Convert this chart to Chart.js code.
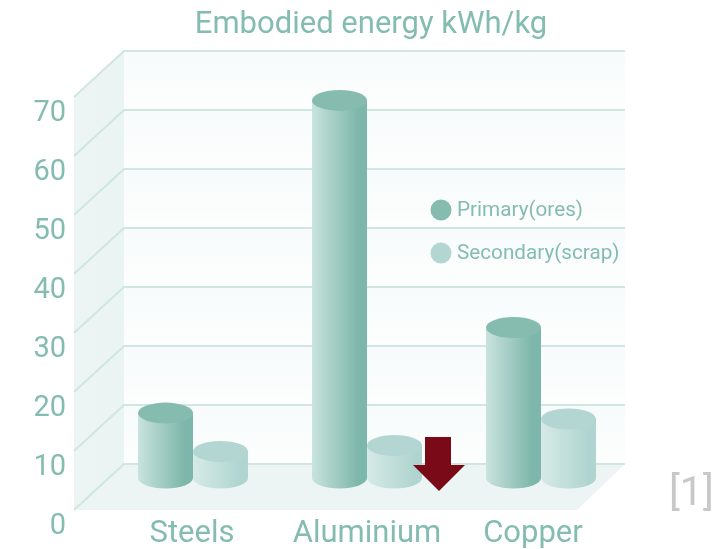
<!DOCTYPE html>
<html>
<head>
<meta charset="utf-8">
<style>
  html, body { margin: 0; background: #fff; }
  canvas { display: block; }
</style>
</head>
<body>
<canvas id="energy" width="725" height="549"></canvas>
<script src="https://cdn.jsdelivr.net/npm/chart.js@4/dist/chart.umd.js"></script>
<script>
const materials = ['Steels', 'Aluminium', 'Copper']
const primaryOres = [11, 64, 25.5]
const secondaryScrap = [4.5, 5.5, 10]
const yTicks = [0, 10, 20, 30, 40, 50, 60, 70]
const labelNudge = [-1, 0, -8]

const TEXT = '#84bcb1'
const GRID = '#cfe6e1'
const FLOOR = '#ecf5f3'

// the cylinders stand between the back wall and the front edge of the floor
const BACK = { dx: 18, dy: -14 }
const FRONT = { dx: -32, dy: 32 }

const tints = [
  { light: '#c9e3de', dark: '#7db6aa', cap: '#86bbb0' },
  { light: '#d6eae7', dark: '#b0d5d0', cap: '#b4d6d2' }
]

function cylinder (ctx, bar, tint) {
  const rx = bar.width / 2
  const ry = 10.5
  const left = bar.x - rx
  const right = bar.x + rx
  const grad = ctx.createLinearGradient(left, 0, right, 0)
  grad.addColorStop(0, tint.light)
  grad.addColorStop(0.85, tint.dark)
  grad.addColorStop(1, tint.dark)
  ctx.fillStyle = grad
  ctx.beginPath()
  ctx.moveTo(left, bar.y)
  ctx.lineTo(left, bar.base)
  ctx.ellipse(bar.x, bar.base, rx, ry, 0, Math.PI, 0, true)
  ctx.lineTo(right, bar.y)
  ctx.closePath()
  ctx.fill()
  ctx.fillStyle = tint.cap
  ctx.beginPath()
  ctx.ellipse(bar.x, bar.y, rx, ry, 0, 0, Math.PI * 2)
  ctx.fill()
}

const stage = {
  id: 'stage',
  // walls, floor and the gridlines that wrap around them
  beforeDatasetsDraw (chart) {
    const { ctx, scales: { x, y } } = chart
    const xl = x.left + BACK.dx
    const xr = x.right - 3
    const y0 = y.getPixelForValue(0)
    const y70 = y.getPixelForValue(70)
    const fx = x.left + FRONT.dx
    ctx.save()

    // back wall, banded between the gridlines
    for (let i = 0; i < yTicks.length - 1; i++) {
      const top = y.getPixelForValue(yTicks[i + 1]) + BACK.dy
      const bottom = y.getPixelForValue(yTicks[i]) + BACK.dy
      const band = ctx.createLinearGradient(0, top, 0, bottom)
      band.addColorStop(0, '#f7fbfb')
      band.addColorStop(1, '#fdfefe')
      ctx.fillStyle = band
      ctx.fillRect(xl, top, xr - xl, bottom - top)
    }

    // side wall
    const side = ctx.createLinearGradient(fx, 0, xl, 0)
    side.addColorStop(0, '#edf5f4')
    side.addColorStop(1, '#eaf4f2')
    ctx.fillStyle = side
    ctx.beginPath()
    ctx.moveTo(fx, y70 + FRONT.dy)
    ctx.lineTo(xl, y70 + BACK.dy)
    ctx.lineTo(xl, y0 + BACK.dy)
    ctx.lineTo(fx, y0 + FRONT.dy)
    ctx.closePath()
    ctx.fill()

    // floor
    ctx.fillStyle = FLOOR
    ctx.beginPath()
    ctx.moveTo(fx, y0 + FRONT.dy)
    ctx.lineTo(xl, y0 + BACK.dy)
    ctx.lineTo(xr, y0 + BACK.dy)
    ctx.lineTo(xr - 48, y0 + FRONT.dy)
    ctx.closePath()
    ctx.fill()

    ctx.strokeStyle = GRID
    ctx.lineWidth = 2
    for (const v of yTicks) {
      const py = y.getPixelForValue(v)
      ctx.beginPath()
      ctx.moveTo(fx, py + FRONT.dy)
      ctx.lineTo(xl, py + BACK.dy)
      ctx.lineTo(xr, py + BACK.dy)
      ctx.stroke()
    }
    ctx.restore()
  },
  afterDatasetsDraw (chart) {
    const { ctx } = chart
    ctx.save()
    materials.forEach((m, i) => {
      chart.data.datasets.forEach((ds, d) => {
        cylinder(ctx, chart.getDatasetMeta(d).data[i], tints[d])
      })
    })
    ctx.restore()
  },
  afterDraw (chart) {
    const { ctx, scales: { x } } = chart
    ctx.save()
    ctx.textBaseline = 'middle'

    // title
    ctx.fillStyle = TEXT
    ctx.textAlign = 'center'
    ctx.font = '31px Roboto'
    ctx.fillText('Embodied energy kWh/kg', 371, 25)

    // category labels
    ctx.font = '31px Roboto'
    materials.forEach((m, i) => {
      ctx.fillText(m, x.getPixelForValue(i) + labelNudge[i], 534)
    })

    // legend
    ctx.textAlign = 'left'
    ctx.font = '20.7px Roboto'
    chart.data.datasets.forEach((ds, d) => {
      const py = 210 + d * 43
      ctx.fillStyle = tints[d].cap
      ctx.beginPath()
      ctx.arc(441, py, 10.5, 0, Math.PI * 2)
      ctx.fill()
      ctx.fillStyle = TEXT
      ctx.fillText(ds.label, 457, py + 1)
    })

    // down arrow marker
    ctx.fillStyle = '#7a0a18'
    ctx.beginPath()
    ctx.moveTo(425, 437)
    ctx.lineTo(451, 437)
    ctx.lineTo(451, 465)
    ctx.lineTo(465, 465)
    ctx.lineTo(439, 491)
    ctx.lineTo(413, 465)
    ctx.lineTo(425, 465)
    ctx.closePath()
    ctx.fill()

    // reference mark
    ctx.fillStyle = '#c8c8c8'
    ctx.font = '400 41px Roboto'
    ctx.fillText('[1]', 669, 495)
    ctx.restore()
  }
}

new Chart(document.getElementById('energy'), {
  type: 'bar',
  plugins: [stage],
  data: {
    labels: materials,
    datasets: [
      { label: 'Primary(ores)', data: primaryOres, backgroundColor: 'transparent' },
      { label: 'Secondary(scrap)', data: secondaryScrap, backgroundColor: 'transparent' }
    ]
  },
  options: {
    responsive: false,
    animation: false,
    categoryPercentage: 0.632,
    barPercentage: 1,
    layout: { padding: { top: 65, right: 97, bottom: 71, left: 0 } },
    plugins: {
      legend: { display: false },
      title: { display: false },
      tooltip: { enabled: false }
    },
    scales: {
      x: { display: false },
      y: {
        min: 0,
        max: 70,
        afterFit (scale) { scale.width = 106 },
        border: { display: false },
        grid: { display: false },
        ticks: {
          stepSize: 10,
          padding: 32,
          labelOffset: 49,
          color: TEXT,
          font: { family: 'Roboto', size: 29 }
        }
      }
    }
  }
})
</script>
</body>
</html>
